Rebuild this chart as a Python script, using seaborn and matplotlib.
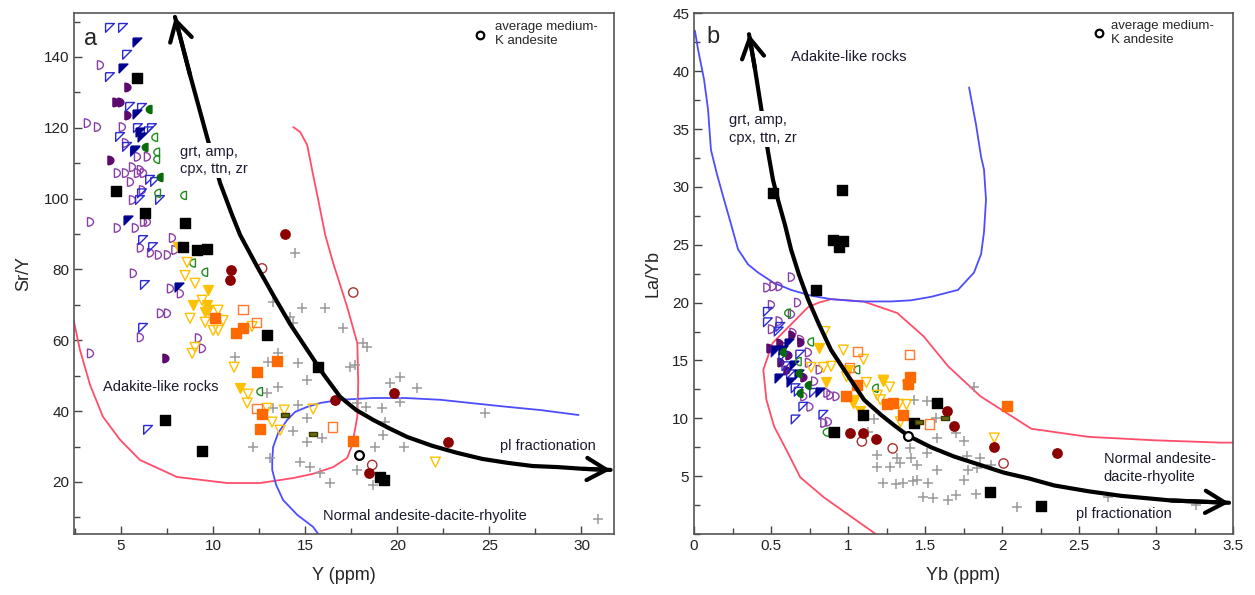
import numpy as np
import matplotlib
matplotlib.use("Agg")
import matplotlib.pyplot as plt
from matplotlib.ticker import MultipleLocator
import seaborn as sns

# ---------------- panel a : Sr/Y vs Y ----------------
A_BLUE_OPEN = [(4.40, 148.2), (5.11, 148.2), (5.33, 140.6), (4.40, 134.3), (5.49, 125.9), (6.14, 125.6),
               (4.95, 117.4), (5.92, 119.9), (6.68, 119.9), (6.5, 119.0), (5.33, 114.6), (5.76, 113.2),
               (6.58, 105.3), (6.85, 104.7), (7.12, 99.6), (6.03, 99.6), (6.14, 101.5), (6.2, 88.3),
               (6.74, 86.3), (6.30, 75.6), (6.2, 63.5), (6.47, 34.7)]
A_NAVY = [(5.87, 144.2), (5.11, 136.9), (5.87, 123.9), (6.03, 118.8), (6.14, 117.4), (5.76, 113.7),
          (5.38, 94.0), (8.15, 75.1)]
A_PURPLE_OPEN = [(3.86, 137.7), (3.15, 121.3), (3.70, 120.2), (5.05, 120.2), (5.22, 115.7), (5.87, 111.8),
                 (6.41, 111.8), (5.60, 108.9), (6.03, 108.1), (4.78, 107.2), (5.22, 107.2), (5.87, 107.2),
                 (6.2, 107.2), (5.49, 104.7), (6.14, 102.4), (5.60, 99.6), (3.32, 93.4), (4.78, 91.7),
                 (5.76, 91.7), (6.2, 93.4), (6.41, 93.4), (7.77, 88.9), (6.03, 86.1), (6.58, 84.7),
                 (7.01, 84.1), (7.5, 84.1), (7.9, 85.5), (5.65, 78.9), (7.66, 74.6), (8.2, 73.2),
                 (7.12, 67.6), (7.5, 67.6), (6.03, 60.8), (9.18, 60.6), (9.40, 57.7), (3.32, 56.3)]
A_PURPLE_FILLED = [(5.33, 131.5), (4.67, 127.3), (4.95, 127.3), (5.33, 123.6), (4.40, 110.9), (7.39, 55.0)]
A_GREEN_OPEN = [(6.85, 117.3), (6.96, 113.1), (6.96, 111.1), (7.01, 101.5), (8.42, 100.9), (8.91, 81.8),
                (9.57, 79.2), (12.55, 45.5)]
A_GREEN_FILLED = [(6.52, 125.2), (6.30, 114.7), (7.12, 106.0)]
A_BLACK = [(5.87, 134.1), (4.73, 102.1), (6.30, 95.9), (8.48, 93.1), (8.37, 86.3), (9.13, 85.4),
           (9.67, 85.9), (12.93, 61.4), (15.7, 52.4), (7.39, 37.5), (9.40, 28.7), (19.08, 21.4),
           (19.29, 20.6)]
A_DARKRED = [(13.9, 90.1), (10.98, 79.8), (10.92, 77.0), (16.63, 43.1), (19.84, 45.1), (22.77, 31.3),
             (18.48, 22.5)]
A_DARKRED_OPEN = [(12.66, 80.3), (17.61, 73.5), (18.64, 24.8)]
A_ORANGE = [(10.11, 66.3), (11.25, 62.0), (11.63, 63.4), (13.48, 54.1), (12.39, 51.0), (12.66, 39.2),
            (12.55, 34.9), (17.61, 31.5)]
A_ORANGE_OPEN = [(11.63, 68.7), (12.34, 65.1), (12.39, 40.8), (16.47, 35.5)]
A_YELLOW = [(9.73, 74.2), (8.91, 70.0), (9.67, 70.0), (9.73, 68.6), (9.57, 68.0), (11.47, 46.5), (8.1, 86.3)]
A_YELLOW_OPEN = [(8.59, 82.0), (8.48, 78.3), (9.02, 76.1), (9.40, 71.3), (10.27, 68.5), (8.75, 66.2),
                 (9.57, 65.1), (10.0, 62.8), (10.27, 62.8), (10.54, 65.6), (12.12, 63.9), (8.86, 56.3),
                 (9.02, 58.0), (11.14, 52.4), (11.9, 44.8), (11.85, 42.3), (12.93, 40.8), (13.2, 36.9),
                 (13.64, 34.6), (13.86, 40.3), (15.43, 40.6), (22.07, 25.6)]
A_OLIVE = [(13.9, 38.9), (15.43, 33.5)]
A_CROSS = [(14.46, 84.6), (13.26, 70.8), (14.84, 69.1), (16.09, 69.1), (14.2, 66.6), (14.35, 64.9),
           (17.07, 63.5), (13.53, 56.3), (11.2, 55.2), (12.99, 53.8), (14.62, 53.5), (17.45, 52.4),
           (17.72, 52.9), (15.1, 48.7), (13.53, 46.8), (12.93, 45.1), (14.62, 41.7), (13.26, 40.8),
           (15.1, 38.0), (14.35, 34.4), (12.17, 29.9), (13.1, 26.8), (15.1, 31.3), (15.92, 32.4),
           (15.27, 24.2), (14.73, 25.6), (15.82, 22.5), (16.36, 19.7), (17.83, 23.4), (18.15, 59.2),
           (18.37, 58.0), (19.62, 47.9), (20.16, 49.6), (21.09, 46.5), (20.16, 42.5), (19.18, 40.8),
           (18.31, 41.1), (17.83, 42.3), (24.78, 39.4), (19.35, 36.9), (19.24, 33.2), (18.8, 29.9),
           (20.38, 29.9), (18.7, 19.2), (30.92, 9.6)]
A_AVG = [(17.93, 27.6)]

A_RED_FIELD = [(2.39, 66.6), (2.77, 57.3), (3.32, 47.4), (4.02, 38.4), (4.95, 31.9), (6.03, 26.2),
               (8.04, 21.4), (10.76, 19.7), (12.55, 19.7), (14.35, 21.1), (15.43, 22.3), (16.52, 24.2),
               (17.28, 26.8), (17.55, 30.4), (17.83, 38.4), (17.88, 48.0), (17.83, 59.2), (17.28, 69.4),
               (16.52, 81.8), (16.09, 89.7), (15.71, 99.6), (15.43, 106.7), (15.11, 115.1),
               (14.73, 118.8), (14.35, 120.2)]
A_BLUE_FIELD = [(29.84, 38.9), (27.77, 40.3), (25.98, 41.2), (23.97, 42.3), (22.34, 43.2), (20.43, 43.7),
                (18.70, 43.7), (16.90, 43.2), (15.82, 42.3), (15.11, 41.2), (14.46, 39.8), (14.02, 37.5),
                (13.53, 33.8), (13.26, 29.9), (13.21, 26.2), (13.21, 23.4), (13.42, 19.2), (13.80, 14.9),
                (14.57, 10.7), (15.43, 7.3), (15.71, 5.3)]
A_TREND = [(7.93, 151.3), (8.75, 134.9), (9.67, 117.4), (10.38, 104.4), (11.03, 95.4), (11.47, 89.7),
           (12.34, 81.3), (13.26, 72.8), (14.18, 64.6), (15.11, 57.3), (15.98, 50.5), (16.90, 44.0),
           (17.77, 40.3), (18.70, 37.5), (19.62, 35.0), (20.54, 32.7), (21.90, 30.2), (23.26, 28.2),
           (24.62, 26.5), (25.98, 25.4), (27.34, 24.5), (28.70, 24.2), (30.11, 23.7), (31.58, 23.4)]

# ---------------- panel b : La/Yb vs Yb ----------------
B_BLACK = [(0.51, 29.5), (0.96, 29.7), (0.90, 25.4), (0.94, 24.8), (0.97, 25.3), (0.79, 21.1), (0.91, 8.8),
           (1.10, 10.3), (1.43, 9.6), (1.58, 11.3), (1.92, 3.6), (2.25, 2.4)]
B_DARKRED = [(1.01, 8.7), (1.10, 8.7), (1.18, 8.2), (1.64, 10.6), (1.69, 9.3), (1.95, 7.5), (2.36, 7.0)]
B_DARKRED_OPEN = [(1.09, 8.0), (1.29, 7.4), (2.01, 6.1)]
B_ORANGE = [(0.99, 11.9), (1.06, 12.9), (1.25, 11.2), (1.29, 11.3), (1.36, 10.3), (1.40, 13.6),
            (1.39, 13.0), (2.03, 11.1)]
B_ORANGE_OPEN = [(1.06, 15.8), (1.40, 15.5), (1.01, 14.4), (1.53, 9.5)]
B_YELLOW_OPEN = [(0.85, 17.5), (0.97, 15.9), (1.10, 15.1), (0.76, 14.4), (0.84, 14.4), (0.89, 14.5),
                 (1.12, 13.1), (1.23, 13.3), (1.27, 12.7), (0.99, 13.6), (1.21, 11.6), (1.19, 12.0),
                 (1.33, 11.2), (1.38, 11.2), (1.34, 9.7), (1.95, 8.3)]
B_YELLOW = [(0.81, 16.1), (0.86, 13.1), (1.0, 14.2), (1.03, 11.3), (1.23, 13.2), (1.38, 12.9),
            (1.08, 10.6), (1.04, 11.6)]
B_GREEN_OPEN = [(0.61, 19.1), (0.76, 16.6), (0.68, 14.9), (1.06, 14.2), (1.18, 12.6), (0.86, 8.8)]
B_GREEN_FILLED = [(0.58, 15.7), (0.68, 13.9), (0.74, 12.9), (0.69, 12.2)]
B_OLIVE = [(1.46, 9.7), (1.63, 10.0)]
B_NAVY = [(0.62, 16.5), (0.58, 15.9), (0.65, 14.6), (0.55, 13.5), (0.68, 13.8), (0.82, 12.3),
          (0.63, 13.1), (0.53, 15.9)]
B_BLUE_OPEN = [(0.48, 19.2), (0.48, 18.3), (0.55, 17.5), (0.53, 15.7), (0.60, 14.5), (0.63, 13.8),
               (0.66, 12.6), (0.68, 12.3), (0.78, 12.2), (0.71, 11.0), (0.84, 10.3), (0.69, 15.5),
               (0.56, 17.9), (0.58, 15.3), (0.66, 9.9)]
B_PURPLE_OPEN = [(0.63, 22.2), (0.47, 21.3), (0.51, 21.4), (0.55, 21.4), (0.67, 20.0), (0.50, 19.8),
                 (0.63, 19.0), (0.50, 17.7), (0.55, 18.4), (0.64, 17.4), (0.69, 16.8), (0.74, 15.7),
                 (0.74, 14.8), (0.81, 14.2), (0.78, 13.2), (0.86, 12.2), (0.92, 11.9), (0.88, 12.0),
                 (0.71, 11.9), (0.75, 11.0), (0.87, 9.7), (0.84, 9.6), (0.58, 16.2)]
B_PURPLE_FILLED = [(0.63, 17.2), (0.55, 16.5), (0.56, 14.9), (0.61, 15.5), (0.69, 16.6), (0.71, 13.6),
                   (0.49, 16.1), (0.60, 14.2)]
B_CROSS = [(1.82, 12.7), (1.43, 11.6), (1.51, 11.5), (1.57, 10.0), (1.58, 8.3), (1.70, 8.7), (1.75, 8.0),
           (1.40, 7.4), (1.19, 6.8), (1.32, 6.6), (1.41, 6.6), (1.27, 5.8), (1.19, 5.8), (1.34, 6.1),
           (1.45, 6.0), (1.51, 7.0), (1.58, 5.5), (1.77, 6.7), (1.86, 6.6), (1.93, 6.0), (1.78, 5.5),
           (1.84, 5.7), (1.75, 4.7), (1.23, 4.4), (1.31, 4.3), (1.36, 4.4), (1.42, 4.6), (1.45, 4.7),
           (1.52, 4.4), (1.49, 3.2), (1.55, 3.1), (1.65, 2.9), (1.70, 3.4), (1.83, 3.5), (2.10, 2.3),
           (2.69, 3.2), (3.26, 2.5), (1.17, 9.9), (1.13, 8.8)]
B_AVG = [(1.39, 8.5)]

B_RED_FIELD = [(3.5, 7.9), (3.42, 7.9), (2.99, 8.1), (2.56, 8.4), (2.19, 9.1), (1.86, 11.9), (1.65, 14.5),
               (1.49, 17.1), (1.32, 19.1), (1.10, 20.1), (0.89, 20.3), (0.81, 20.0), (0.74, 19.6),
               (0.51, 16.5), (0.45, 14.2), (0.47, 11.6), (0.52, 9.3), (0.61, 7.0), (0.69, 4.9),
               (0.84, 3.2), (1.02, 1.5), (1.18, 0.0)]
B_BLUE_FIELD = [(0.006, 43.5), (0.026, 41.9), (0.065, 39.3), (0.091, 36.7), (0.110, 33.2), (0.149, 31.1),
                (0.195, 28.9), (0.240, 26.8), (0.286, 24.6), (0.351, 23.3), (0.416, 22.6), (0.519, 21.7),
                (0.630, 21.1), (0.760, 20.6), (0.890, 20.3), (1.084, 20.1), (1.279, 20.1), (1.409, 20.2),
                (1.539, 20.5), (1.714, 21.1), (1.818, 22.6), (1.864, 24.2), (1.883, 26.1), (1.896, 28.9),
                (1.883, 31.5), (1.864, 32.6), (1.831, 35.4), (1.786, 38.6)]
B_TREND = [(0.357, 43.2), (0.396, 40.2), (0.435, 36.9), (0.481, 33.0), (0.513, 30.6), (0.545, 28.9),
           (0.591, 26.7), (0.630, 24.6), (0.682, 22.4), (0.740, 20.3), (0.812, 18.1), (0.890, 15.9),
           (0.994, 13.8), (1.104, 11.6), (1.214, 10.3), (1.299, 9.4), (1.390, 8.5), (1.539, 7.5),
           (1.688, 6.7), (1.851, 6.0), (2.013, 5.3), (2.175, 4.8), (2.338, 4.2), (2.558, 3.7),
           (2.773, 3.3), (3.097, 2.9), (3.474, 2.7)]

# ---------------- marker shapes ----------------
TRI = [(-1, 1), (1, 1), (-1, -1), (-1, 1)]
_t = np.linspace(-np.pi / 2, np.pi / 2, 15)
D_RIGHT = [(-0.6, -1)] + list(zip(-0.6 + 1.4 * np.cos(_t), np.sin(_t))) + [(-0.6, -1)]
D_LEFT = [(-x, y) for x, y in D_RIGHT]
BAR = [(-1, -0.4), (1, -0.4), (1, 0.4), (-1, 0.4), (-1, -0.4)]

sns.set_style("white")
plt.rcParams["font.family"] = ["Liberation Sans", "DejaVu Sans"]

fig = plt.figure(figsize=(12.55, 5.95), dpi=100)
ax_a = fig.add_axes([0.059, 0.1025, 0.430, 0.875])
ax_b = fig.add_axes([0.553, 0.1025, 0.4295, 0.875])


def pts(ax, data, marker, face, edge, s=40, lw=1.0, z=4):
    x, y = zip(*data)
    sns.scatterplot(x=list(x), y=list(y), marker=marker, s=s, facecolor=face, edgecolor=edge,
                    linewidth=lw, ax=ax, zorder=z, legend=False)


def curve(ax, data, color, lw=1.3, z=2):
    x, y = zip(*data)
    ax.plot(x, y, color=color, lw=lw, zorder=z)


def draw_points(ax, P):
    pts(ax, P["cross"], "+", "#9a9a9a", "#9a9a9a", s=55, lw=1.1, z=3)
    pts(ax, P["purple_open"], D_RIGHT, "none", "#8a3fa6", s=38)
    pts(ax, P["purple_filled"], D_RIGHT, "#5c0a6e", "#5c0a6e", s=38)
    pts(ax, P["blue_open"], TRI, "none", "#2a2ad0", s=40)
    pts(ax, P["navy"], TRI, "#00008f", "#00008f", s=40)
    pts(ax, P["green_open"], D_LEFT, "none", "#1e8a1e", s=34)
    pts(ax, P["green_filled"], D_LEFT, "#0a6a0a", "#0a6a0a", s=34)
    pts(ax, P["yellow_open"], "v", "none", "#ffc000", s=50)
    pts(ax, P["yellow"], "v", "#ffc000", "#ffc000", s=50)
    pts(ax, P["orange_open"], "s", "none", "#ff7a30", s=45)
    pts(ax, P["orange"], "s", "#ff6a00", "#ff6a00", s=45)
    pts(ax, P["black"], "s", "#000000", "#000000", s=45)
    pts(ax, P["darkred_open"], "o", "none", "#a83232", s=45)
    pts(ax, P["darkred"], "o", "#8b0000", "#8b0000", s=45)
    pts(ax, P["olive"], BAR, "#6b6b10", "#3a3a00", s=40)
    pts(ax, P["avg"], "o", "white", "black", s=40, lw=1.6, z=6)


draw_points(ax_a, dict(cross=A_CROSS, purple_open=A_PURPLE_OPEN, purple_filled=A_PURPLE_FILLED,
                       blue_open=A_BLUE_OPEN, navy=A_NAVY, green_open=A_GREEN_OPEN,
                       green_filled=A_GREEN_FILLED, yellow_open=A_YELLOW_OPEN, yellow=A_YELLOW,
                       orange_open=A_ORANGE_OPEN, orange=A_ORANGE, black=A_BLACK,
                       darkred_open=A_DARKRED_OPEN, darkred=A_DARKRED, olive=A_OLIVE, avg=A_AVG))
draw_points(ax_b, dict(cross=B_CROSS, purple_open=B_PURPLE_OPEN, purple_filled=B_PURPLE_FILLED,
                       blue_open=B_BLUE_OPEN, navy=B_NAVY, green_open=B_GREEN_OPEN,
                       green_filled=B_GREEN_FILLED, yellow_open=B_YELLOW_OPEN, yellow=B_YELLOW,
                       orange_open=B_ORANGE_OPEN, orange=B_ORANGE, black=B_BLACK,
                       darkred_open=B_DARKRED_OPEN, darkred=B_DARKRED, olive=B_OLIVE, avg=B_AVG))

curve(ax_a, A_RED_FIELD, "#ff4d6a")
curve(ax_a, A_BLUE_FIELD, "#4d4dff")
curve(ax_b, B_RED_FIELD, "#ff4d6a")
curve(ax_b, B_BLUE_FIELD, "#4d4dff")

for ax, tr in [(ax_a, A_TREND), (ax_b, B_TREND)]:
    curve(ax, tr, "black", lw=3, z=5)
    head = dict(arrowstyle="->,head_length=0.7,head_width=0.4", lw=3, color="black",
                shrinkA=0, shrinkB=0, mutation_scale=20)
    ax.annotate("", xy=tr[0], xytext=tr[1], arrowprops=head, zorder=5)
    ax.annotate("", xy=tr[-1], xytext=tr[-2], arrowprops=head, zorder=5)

txt = dict(fontsize=10.5, color="#1a1a2e", zorder=7)
box = dict(facecolor="white", edgecolor="none", pad=1.5)

# panel a texts
ax_a.text(3.0, 145, "a", fontsize=17, ha="left", va="center")
ax_a.text(25.3, 146.5, "average medium-\nK andesite", fontsize=9.5, va="center", linespacing=1.25, zorder=7)
pts(ax_a, [(24.5, 146.3)], "o", "white", "black", s=30, lw=1.6, z=7)
ax_a.text(8.2, 110.7, "grt, amp,\ncpx, ttn, zr", va="center", linespacing=1.3, bbox=box, **txt)
ax_a.text(4.0, 46.8, "Adakite-like rocks", va="center", **txt)
ax_a.text(25.6, 30.1, "pl fractionation", va="center", **txt)
ax_a.text(15.95, 10.4, "Normal andesite-dacite-rhyolite", va="center", **txt)

# panel b texts
ax_b.text(0.08, 43.0, "b", fontsize=17, ha="left", va="center")
ax_b.text(2.71, 43.3, "average medium-\nK andesite", fontsize=9.5, va="center", linespacing=1.25, zorder=7)
pts(ax_b, [(2.63, 43.3)], "o", "white", "black", s=30, lw=1.6, z=7)
ax_b.text(0.23, 35.0, "grt, amp,\ncpx, ttn, zr", va="center", linespacing=1.3, bbox=box, **txt)
ax_b.text(0.63, 41.2, "Adakite-like rocks", va="center", **txt)
ax_b.text(2.66, 5.7, "Normal andesite-\ndacite-rhyolite", va="center", linespacing=1.3, **txt)
ax_b.text(2.48, 1.7, "pl fractionation", va="center", **txt)

# axes
ax_a.set_xlim(2.45, 31.75)
ax_a.set_ylim(5.3, 152.3)
ax_a.set_xticks([5, 10, 15, 20, 25, 30])
ax_a.set_yticks([20, 40, 60, 80, 100, 120, 140])
ax_a.xaxis.set_minor_locator(MultipleLocator(2.5))
ax_a.yaxis.set_minor_locator(MultipleLocator(10))
ax_a.set_xlabel("Y (ppm)", fontsize=13)
ax_a.set_ylabel("Sr/Y", fontsize=13)

ax_b.set_xlim(0, 3.5)
ax_b.set_ylim(0, 45)
ax_b.set_xticks([0, 0.5, 1, 1.5, 2, 2.5, 3, 3.5])
ax_b.set_xticklabels(["0", "0.5", "1", "1.5", "2", "2.5", "3", "3.5"])
ax_b.set_yticks([5, 10, 15, 20, 25, 30, 35, 40, 45])
ax_b.xaxis.set_minor_locator(MultipleLocator(0.25))
ax_b.yaxis.set_minor_locator(MultipleLocator(2.5))
ax_b.set_xlabel("Yb (ppm)", fontsize=13)
ax_b.set_ylabel("La/Yb", fontsize=13)

for ax in (ax_a, ax_b):
    for sp in ax.spines.values():
        sp.set_color("#555555")
        sp.set_linewidth(1.2)
    ax.tick_params(which="both", direction="in", colors="#444444", labelcolor="#222222",
                   labelsize=11, bottom=True, left=True, top=False, right=False)
    ax.tick_params(which="major", length=6, width=1)
    ax.tick_params(which="minor", length=4, width=1)
    ax.xaxis.labelpad = 10
    ax.yaxis.labelpad = 8

fig.savefig("out.png", dpi=100)
